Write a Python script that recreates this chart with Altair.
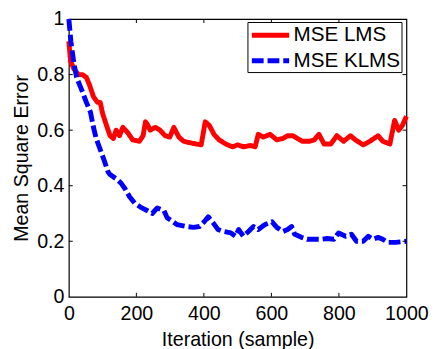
import altair as alt
import pandas as pd

# ---- data ----
lms_iter = [0, 5, 15, 29, 40, 52, 62, 73, 85, 93, 100, 108, 122, 132, 140, 150, 160, 175, 189,
            209, 220, 227, 233, 241, 256, 270, 285, 299, 311, 326, 340, 358, 378, 392, 404,
            416, 430, 445, 465, 485, 500, 517, 538, 552, 561, 576, 596, 616, 634, 648, 663,
            677, 692, 712, 727, 741, 756, 776, 794, 814, 834, 849, 872, 892, 916, 930, 951,
            965, 977, 988, 1000]
lms_mse = [0.92, 0.85, 0.82, 0.80, 0.80, 0.79, 0.76, 0.72, 0.70, 0.70, 0.66, 0.63, 0.58, 0.57,
           0.60, 0.58, 0.61, 0.59, 0.565, 0.56, 0.58, 0.63, 0.62, 0.60, 0.61, 0.60, 0.58,
           0.575, 0.61, 0.575, 0.56, 0.555, 0.55, 0.547, 0.63, 0.617, 0.585, 0.565, 0.55,
           0.54, 0.547, 0.54, 0.545, 0.54, 0.585, 0.575, 0.585, 0.565, 0.57, 0.58, 0.58,
           0.57, 0.56, 0.56, 0.565, 0.585, 0.55, 0.55, 0.58, 0.56, 0.58, 0.565, 0.547,
           0.56, 0.58, 0.56, 0.55, 0.635, 0.60, 0.617, 0.65]

klms_iter = [0, 6, 15, 23, 38, 52, 64, 73, 81, 96, 105, 116, 122, 140, 154, 166, 180, 195, 212,
             233, 247, 262, 282, 291, 320, 349, 369, 387, 401, 413, 427, 442, 459, 480, 494,
             503, 517, 532, 547, 561, 581, 602, 616, 634, 648, 660, 669, 689, 706, 727, 747,
             765, 785, 799, 820, 837, 852, 872, 887, 901, 916, 930, 945, 968, 1000]
klms_mse = [1.0, 0.92, 0.84, 0.79, 0.745, 0.70, 0.665, 0.61, 0.57, 0.52, 0.49, 0.45, 0.44,
            0.425, 0.41, 0.39, 0.36, 0.337, 0.323, 0.31, 0.30, 0.32, 0.31, 0.285, 0.26,
            0.253, 0.25, 0.253, 0.27, 0.288, 0.267, 0.242, 0.235, 0.23, 0.218, 0.242, 0.218,
            0.235, 0.253, 0.242, 0.26, 0.27, 0.25, 0.235, 0.242, 0.253, 0.225, 0.214, 0.207,
            0.207, 0.207, 0.21, 0.207, 0.23, 0.218, 0.225, 0.20, 0.20, 0.218, 0.207, 0.214,
            0.207, 0.196, 0.196, 0.20]

series_names = ["MSE LMS", "MSE KLMS"]
series_colors = ["#ff0000", "#0000ff"]
x_ticks = [0, 200, 400, 600, 800, 1000]
y_ticks = [0, 0.2, 0.4, 0.6, 0.8, 1]
x_inner = [200, 400, 600, 800]
y_inner = [0.2, 0.4, 0.6, 0.8]

df = pd.concat([
    pd.DataFrame({"iter": lms_iter, "mse": lms_mse, "series": series_names[0]}),
    pd.DataFrame({"iter": klms_iter, "mse": klms_mse, "series": series_names[1]}),
])

W, H = 344, 283
FONT = "Liberation Sans"

X = alt.X("iter:Q", title="Iteration (sample)",
          scale=alt.Scale(domain=[0, 1000], nice=False, zero=False),
          axis=alt.Axis(values=x_ticks, format="d", labelFlush=False, tickSize=0,
                        domain=False, grid=False, labelPadding=7, titlePadding=7))
Y = alt.Y("mse:Q", title="Mean Square Error",
          scale=alt.Scale(domain=[0, 1], nice=False),
          axis=alt.Axis(values=y_ticks, format="~g", labelFlush=False, tickSize=0,
                        domain=False, grid=False, labelPadding=5, titlePadding=5))

LEG = dict(title=None, orient="none", legendX=182, legendY=3)
color = alt.Color("series:N", scale=alt.Scale(domain=series_names, range=series_colors),
                  legend=alt.Legend(**LEG))
dash = alt.StrokeDash("series:N",
                      scale=alt.Scale(domain=series_names, range=[[1, 0], [12, 4]]),
                      legend=alt.Legend(**LEG))

base = alt.Chart(df).mark_line(strokeWidth=5, strokeJoin="round").encode(
    x=X, y=Y, color=color, strokeDash=dash)
red = base.transform_filter(alt.datum.series == series_names[0])
blue = base.transform_filter(alt.datum.series == series_names[1])

xt = pd.DataFrame({"iter": x_inner})
yt = pd.DataFrame({"mse": y_inner})
tick_b = alt.Chart(xt).mark_rule(color="black", strokeWidth=1).encode(
    x=X, y=alt.value(H), y2=alt.value(H - 4))
tick_t = alt.Chart(xt).mark_rule(color="black", strokeWidth=1).encode(
    x=X, y=alt.value(0), y2=alt.value(4))
tick_l = alt.Chart(yt).mark_rule(color="black", strokeWidth=1).encode(
    y=Y, x=alt.value(0), x2=alt.value(4))
tick_r = alt.Chart(yt).mark_rule(color="black", strokeWidth=1).encode(
    y=Y, x=alt.value(W), x2=alt.value(W - 4))

chart = alt.layer(red, blue, tick_b, tick_t, tick_l, tick_r).properties(
    width=W, height=H,
    autosize=alt.AutoSizeParams(type="none"),
    padding={"left": 62, "top": 8, "right": 23, "bottom": 54},
).configure_view(
    stroke="black", strokeWidth=1.2
).configure_axis(
    labelFont=FONT, titleFont=FONT, labelFontSize=20, titleFontSize=20,
    labelColor="black", titleColor="black", titleFontWeight="normal"
).configure_legend(
    labelFont=FONT, labelFontSize=21, labelColor="black",
    symbolType="M-0.9,0H2.9", symbolSize=400, symbolStrokeWidth=5,
    strokeColor="black", fillColor="white", padding=1, rowPadding=3,
    labelOffset=21, cornerRadius=0
)

chart.save("out.html", embed_options={"renderer": "svg", "actions": False})
